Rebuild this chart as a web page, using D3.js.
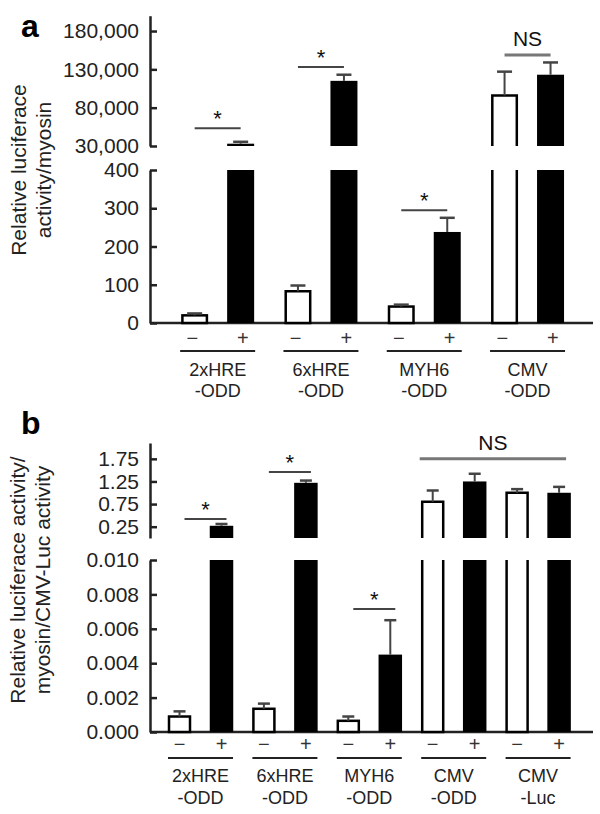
<!DOCTYPE html>
<html>
<head>
<meta charset="utf-8">
<script src="https://cdn.jsdelivr.net/npm/d3@7"></script>
<style>
  html, body { margin: 0; padding: 0; background: #fff; }
  svg { display: block; font-family: "Liberation Sans", Arial, Helvetica, sans-serif; }
</style>
</head>
<body>
<svg id="chart" width="600" height="814"></svg>
<script>
// ---------------- DATA ----------------
const treatments = ["\u2212", "+"];

// Panel a
const groupsA_line1 = ["2xHRE", "6xHRE", "MYH6", "CMV"];
const groupsA_line2 = ["-ODD", "-ODD", "-ODD", "-ODD"];
const valuesA_minus = [20, 83, 43, 96000];
const errorsA_minus = [5, 15, 5, 31000];
const valuesA_plus = [33000, 115000, 238, 123000];
const errorsA_plus = [2500, 8000, 37, 16000];
const ticksA_upper = [30000, 80000, 130000, 180000];
const ticksA_lower = [0, 100, 200, 300, 400];
const sigA_groupFrom = [0, 1, 2, 3];
const sigA_groupTo = [0, 1, 2, 3];
const sigA_label = ["*", "*", "*", "NS"];
const sigA_level = [53000, 133000, 295, 148700];

// Panel b
const groupsB_line1 = ["2xHRE", "6xHRE", "MYH6", "CMV", "CMV"];
const groupsB_line2 = ["-ODD", "-ODD", "-ODD", "-ODD", "-Luc"];
const valuesB_minus = [0.0009, 0.00135, 0.00065, 0.80, 1.00];
const errorsB_minus = [0.0003, 0.0003, 0.00025, 0.25, 0.08];
const valuesB_plus = [0.27, 1.22, 0.0045, 1.25, 1.00];
const errorsB_plus = [0.04, 0.05, 0.002, 0.17, 0.13];
const ticksB_upper = [0.25, 0.75, 1.25, 1.75];
const ticksB_lower = [0, 0.002, 0.004, 0.006, 0.008, 0.010];
const sigB_groupFrom = [0, 1, 2, 3];
const sigB_groupTo = [0, 1, 2, 4];
const sigB_label = ["*", "*", "*", "NS"];
const sigB_level = [0.42, 1.46, 0.00715, 1.75];

// ---------------- DRAW ----------------
const svg = d3.select("#chart");
const AXIS_COLOR = "#222";
const ERR_COLOR = "#444";

function drawPanel(cfg) {
  const g = svg.append("g");
  const nG = cfg.line1.length;
  const xG = d3.scaleBand().domain(d3.range(nG)).range(cfg.xRange).padding(0);
  const xT = d3.scalePoint().domain(treatments).range([0, xG.bandwidth()]).padding(cfg.innerPad);
  const xS = d3.scalePoint().domain(treatments).range([0, xG.bandwidth()]).padding(cfg.signPad);
  const yU = d3.scaleLinear().domain(cfg.upperDomain).range(cfg.upperRange);
  const yL = d3.scaleLinear().domain(cfg.lowerDomain).range(cfg.lowerRange);
  const Lmax = cfg.lowerDomain[1];
  const Umin = cfg.upperDomain[0];
  const yAny = v => v > Lmax ? yU(v) : yL(v);
  const bw = cfg.barWidth;
  const base = yL(0);

  // panel letter
  g.append("text").attr("x", cfg.letterX).attr("y", cfg.letterY)
    .attr("font-size", 32).attr("font-weight", "bold").text(cfg.letter);

  // y title
  cfg.title.forEach((t, i) => {
    g.append("text")
      .attr("transform", `translate(${cfg.titleX[i]},${cfg.titleY}) rotate(-90)`)
      .attr("text-anchor", "middle").attr("font-size", 21).attr("fill", "#222").text(t);
  });

  // axes
  const axU = g.append("g").attr("transform", `translate(${cfg.axisX},0)`)
    .call(d3.axisLeft(yU).tickValues(cfg.ticksU).tickSizeInner(-7).tickSizeOuter(0)
      .tickPadding(11).tickFormat(cfg.fmtU));
  const axL = g.append("g").attr("transform", `translate(${cfg.axisX},0)`)
    .call(d3.axisLeft(yL).tickValues(cfg.ticksL).tickSizeInner(-7).tickSizeOuter(0)
      .tickPadding(11).tickFormat(cfg.fmtL));
  [axU, axL].forEach(ax => {
    ax.select(".domain").attr("stroke", AXIS_COLOR).attr("stroke-width", 2.5);
    ax.selectAll(".tick line").attr("stroke", AXIS_COLOR).attr("stroke-width", 2.5);
    ax.selectAll(".tick text").attr("font-size", 21).attr("fill", "#222")
      .attr("font-family", "Liberation Sans, Arial, sans-serif");
  });
  // baseline
  g.append("line").attr("x1", cfg.axisX).attr("x2", cfg.baseEnd)
    .attr("y1", base).attr("y2", base).attr("stroke", AXIS_COLOR).attr("stroke-width", 2.5);

  // bars
  const bars = [];
  for (let i = 0; i < nG; i++) {
    bars.push({ g: i, t: treatments[0], v: cfg.vMinus[i], e: cfg.eMinus[i], open: true });
    bars.push({ g: i, t: treatments[1], v: cfg.vPlus[i], e: cfg.ePlus[i], open: false });
  }
  bars.forEach(b => {
    const cx = xG(b.g) + xT(b.t);
    const x0 = cx - bw / 2, x1 = cx + bw / 2;
    const broken = b.v > Lmax;
    if (b.open) {
      const sw = 2.5, h = sw / 2;
      if (!broken) {
        g.append("rect").attr("x", x0 + h).attr("y", yL(b.v))
          .attr("width", bw - sw).attr("height", base - yL(b.v))
          .attr("fill", "#fff").attr("stroke", "#000").attr("stroke-width", sw);
      } else {
        g.append("path").attr("d", `M${x0 + h},${yL(Lmax)}V${base}H${x1 - h}V${yL(Lmax)}`)
          .attr("fill", "#fff").attr("stroke", "#000").attr("stroke-width", sw);
        g.append("path").attr("d", `M${x0 + h},${yU(Umin)}V${yU(b.v)}H${x1 - h}V${yU(Umin)}`)
          .attr("fill", "#fff").attr("stroke", "#000").attr("stroke-width", sw);
      }
    } else {
      if (!broken) {
        g.append("rect").attr("x", x0).attr("y", yL(b.v)).attr("width", bw)
          .attr("height", base - yL(b.v)).attr("fill", "#000");
      } else {
        g.append("rect").attr("x", x0).attr("y", yL(Lmax)).attr("width", bw)
          .attr("height", base - yL(Lmax)).attr("fill", "#000");
        g.append("rect").attr("x", x0).attr("y", yU(b.v)).attr("width", bw)
          .attr("height", yU(Umin) - yU(b.v)).attr("fill", "#000");
      }
    }
    // error bar (upward)
    const yTop = yAny(b.v + b.e), yB = yAny(b.v);
    g.append("line").attr("x1", cx).attr("x2", cx).attr("y1", yB).attr("y2", yTop)
      .attr("stroke", ERR_COLOR).attr("stroke-width", 2);
    g.append("line").attr("x1", cx - cfg.capW / 2).attr("x2", cx + cfg.capW / 2)
      .attr("y1", yTop).attr("y2", yTop).attr("stroke", ERR_COLOR).attr("stroke-width", 2.5);
  });

  // treatment signs
  for (let i = 0; i < nG; i++) {
    treatments.forEach(t => {
      g.append("text").attr("x", xG(i) + xS(t)).attr("y", cfg.signY)
        .attr("text-anchor", "middle").attr("font-size", 20).attr("fill", "#333").text(t);
    });
    const gc = xG(i) + xG.bandwidth() / 2;
    g.append("line").attr("x1", gc - cfg.ulHalf).attr("x2", gc + cfg.ulHalf)
      .attr("y1", cfg.ulY).attr("y2", cfg.ulY).attr("stroke", "#222").attr("stroke-width", 2);
    g.append("text").attr("x", gc).attr("y", cfg.lab1Y).attr("text-anchor", "middle")
      .attr("font-size", 18).attr("fill", "#222").text(cfg.line1[i]);
    g.append("text").attr("x", gc).attr("y", cfg.lab2Y).attr("text-anchor", "middle")
      .attr("font-size", 18).attr("fill", "#222").text(cfg.line2[i]);
  }

  // significance
  cfg.sigLabel.forEach((lab, k) => {
    const isNS = lab === "NS";
    let xa = xG(cfg.sigFrom[k]) + xT(treatments[0]);
    let xb = xG(cfg.sigTo[k]) + xT(treatments[1]);
    if (isNS) { xa += cfg.nsPad[0]; xb += cfg.nsPad[1]; }
    else { xa += cfg.sigShift; xb += cfg.sigShift; }
    const ly = yAny(cfg.sigLevel[k]);
    g.append("line").attr("x1", xa).attr("x2", xb).attr("y1", ly).attr("y2", ly)
      .attr("stroke", isNS ? "#777" : "#444").attr("stroke-width", isNS ? 3 : 2);
    g.append("text").attr("x", (xa + xb) / 2).attr("y", isNS ? ly - 9 : ly - 2)
      .attr("text-anchor", "middle").attr("font-size", isNS ? 21 : 22).attr("fill", "#111").text(lab);
  });
}

drawPanel({
  letter: "a", letterX: 21, letterY: 37,
  title: ["Relative luciferace", "activity/myosin"], titleX: [26, 51], titleY: 170,
  line1: groupsA_line1, line2: groupsA_line2,
  vMinus: valuesA_minus, eMinus: errorsA_minus, vPlus: valuesA_plus, ePlus: errorsA_plus,
  upperDomain: [30000, 200000], upperRange: [146, 15.7],
  lowerDomain: [0, 400], lowerRange: [323, 170],
  ticksU: ticksA_upper, ticksL: ticksA_lower,
  fmtU: d3.format(","), fmtL: d3.format("d"),
  axisX: 150, baseEnd: 593,
  xRange: [166, 579.2], innerPad: 0.623, signPad: 0.52, barWidth: 27, capW: 15,
  signY: 345, ulY: 351, ulHalf: 37.5, lab1Y: 376, lab2Y: 397,
  sigFrom: sigA_groupFrom, sigTo: sigA_groupTo, sigLabel: sigA_label, sigLevel: sigA_level,
  sigShift: 0, nsPad: [0, 0]
});

drawPanel({
  letter: "b", letterX: 21, letterY: 434,
  title: ["Relative luciferace activity/", "myosin/CMV-Luc activity"], titleX: [25, 50], titleY: 580,
  line1: groupsB_line1, line2: groupsB_line2,
  vMinus: valuesB_minus, eMinus: errorsB_minus, vPlus: valuesB_plus, ePlus: errorsB_plus,
  upperDomain: [0, 2.1], upperRange: [538, 443],
  lowerDomain: [0, 0.010], lowerRange: [732, 560],
  ticksU: ticksB_upper, ticksL: ticksB_lower,
  fmtU: d3.format(".2f"), fmtL: d3.format(".3f"),
  axisX: 150, baseEnd: 593,
  xRange: [158.3, 580.3], innerPad: 0.505, signPad: 0.505, barWidth: 23.5, capW: 12,
  signY: 751, ulY: 758, ulHalf: 32.5, lab1Y: 782, lab2Y: 804,
  sigFrom: sigB_groupFrom, sigTo: sigB_groupTo, sigLabel: sigB_label, sigLevel: sigB_level,
  sigShift: 5, nsPad: [-13, 7]
});
</script>
</body>
</html>
